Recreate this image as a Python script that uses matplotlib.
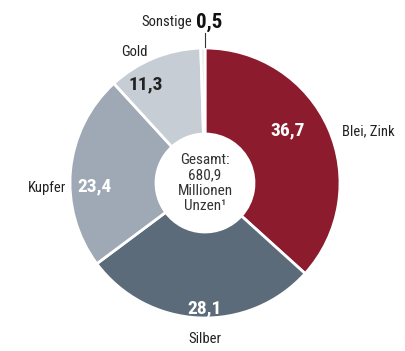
import matplotlib.pyplot as plt
from matplotlib import font_manager

names = {f.name for f in font_manager.fontManager.ttflist}
narrow = [n for n in ['Roboto Condensed', 'Liberation Sans Narrow', 'DejaVu Sans Condensed'] if n in names]
plt.rcParams['font.family'] = narrow + ['DejaVu Sans']

categories = ['Blei, Zink', 'Silber', 'Kupfer', 'Gold', 'Sonstige']
values = [36.7, 28.1, 23.4, 11.3, 0.5]
value_labels = ['36,7', '28,1', '23,4', '11,3', '0,5']
colors = ['#8C1B2D', '#5B6B7A', '#9EA9B5', '#C7CDD4', '#E6E8EB']
total_lines = ['Gesamt:', '680,9', 'Millionen', 'Unzen\u00b9']

W, H = 406, 351
cx, cy = 205, H - 183
r_out, r_in = 135, 49

fig = plt.figure(figsize=(W / 100, H / 100), dpi=100)
ax = fig.add_axes([0, 0, 1, 1])

ax.pie(values, colors=colors, startangle=90, counterclock=False,
       center=(cx, cy), radius=r_out,
       wedgeprops=dict(width=r_out - r_in, edgecolor='white', linewidth=2))
ax.set_xlim(0, W)
ax.set_ylim(0, H)
ax.set_aspect('equal')
ax.axis('off')

def py(y):
    return H - y

# values inside the ring
ax.text(288, py(130), value_labels[0], color='white', fontsize=14, fontweight='bold',
        ha='center', va='center')
ax.text(205, py(308), value_labels[1], color='white', fontsize=14, fontweight='bold',
        ha='center', va='center')
ax.text(95, py(186), value_labels[2], color='white', fontsize=14, fontweight='bold',
        ha='center', va='center')
ax.text(146, py(84), value_labels[3], color='#222222', fontsize=14, fontweight='bold',
        ha='center', va='center')
ax.text(196, py(22), value_labels[4], color='#111111', fontsize=15, fontweight='bold',
        ha='left', va='center')

# category names
ax.text(342, py(131), categories[0], color='#222222', fontsize=10.5, ha='left', va='center')
ax.text(205, py(339), categories[1], color='#222222', fontsize=10.5, ha='center', va='center')
ax.text(66, py(188), categories[2], color='#222222', fontsize=10.5, ha='right', va='center')
ax.text(121, py(52), categories[3], color='#222222', fontsize=10.5, ha='left', va='center')
ax.text(192, py(22), categories[4], color='#222222', fontsize=10.5, ha='right', va='center')
ax.plot([205, 205], [py(33), py(47)], color='#333333', linewidth=0.8)

ax.text(cx, cy, '\n'.join(total_lines), color='#333333', fontsize=11,
        ha='center', va='center', linespacing=1.1)

fig.savefig('out.png', dpi=100)
